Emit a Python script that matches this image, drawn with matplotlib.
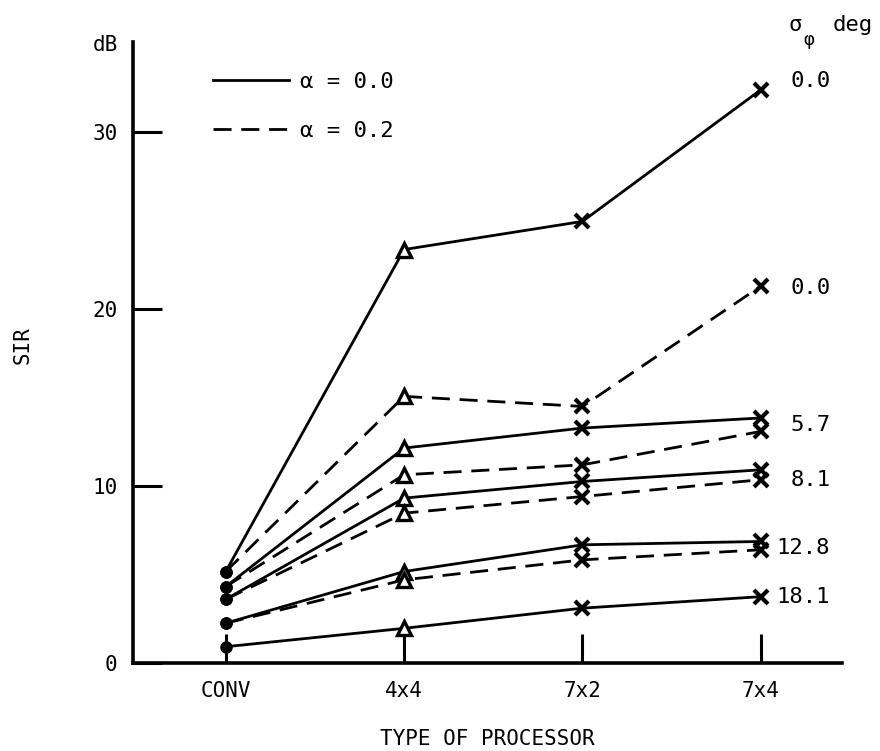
import numpy as np
import matplotlib
matplotlib.use('Agg')
import matplotlib.pyplot as plt

plt.rcParams['font.family'] = ['DejaVu Sans Mono', 'DejaVu Sans']

processors = ['CONV', '4x4', '7x2', '7x4']

# SIR in dB, alpha = 0.0 (solid), keyed by sigma_phi in deg
sir_a0 = {
    '0.0':  [5.17, 23.37, 24.96, 32.4],
    '5.7':  [4.32, 12.15, 13.28, 13.85],
    '8.1':  [3.60, 9.32, 10.26, 10.92],
    '12.8': [2.25, 5.17, 6.68, 6.87],
    '18.1': [0.92, 1.96, 3.10, 3.75],
}
# SIR in dB, alpha = 0.2 (dashed)
sir_a2 = {
    '0.0':  [5.17, 15.07, 14.50, 21.3],
    '5.7':  [4.32, 10.64, 11.20, 13.09],
    '8.1':  [3.60, 8.47, 9.41, 10.36],
    '12.8': [2.25, 4.70, 5.83, 6.40],
}
# sigma labels on the right
label_txt = ['0.0', '0.0', '5.7', '8.1', '12.8', '18.1']
label_y = [32.9, 21.2, 13.47, 10.36, 6.5, 3.74]

W, H = 880, 751
fig = plt.figure(figsize=(W / 100, H / 100), dpi=100)
ax = fig.add_axes([133 / W, 1 - 663 / H, (842 - 133) / W, (663 - 42) / H])

x = np.arange(len(processors))
DASH = (6.5, 3.5)

def draw(vals, dashed=False):
    kw = dict(color='black', lw=2.0)
    if dashed:
        kw['dashes'] = DASH
    ax.plot(x, vals, '-', **kw)
    ax.plot(x[:1], vals[:1], 'o', color='black', ms=8)
    ax.plot(x[1:2], vals[1:2], '^', mfc='white', mec='black', mew=2.4, ms=10)
    ax.plot(x[2:], vals[2:], 'x', color='black', mew=3.0, ms=10)

for v in sir_a0.values():
    draw(v)
for v in sir_a2.values():
    draw(v, dashed=True)

# legend
h1, = ax.plot([], [], '-', color='black', lw=2.0)
h2, = ax.plot([], [], '-', color='black', lw=2.0, dashes=DASH)
ax.legend([h1, h2], ['\u03b1 = 0.0', '\u03b1 = 0.2'], frameon=False,
          loc='upper left', bbox_to_anchor=(213 / W, 1 - 72 / H),
          bbox_transform=fig.transFigure, borderpad=0, borderaxespad=0,
          handlelength=3.4, handletextpad=0.5, fontsize=16,
          labelspacing=1.3)

for yy, t in zip(label_y, label_txt):
    ax.annotate(t, xy=(3, yy), xytext=(50, 0), textcoords='offset points',
                va='center', ha='right', fontsize=16)

fig.text(788 / W, 1 - 25 / H, '\u03c3', fontsize=16, ha='left', va='center')
fig.text(803 / W, 1 - 40 / H, '\u03c6', fontsize=13, ha='left', va='center')
fig.text(833 / W, 1 - 25 / H, 'deg', fontsize=16, ha='left', va='center')

ax.set_xlim(-0.52, 3.455)
ax.set_ylim(0, 35.1)
ax.set_xticks(x)
ax.set_xticklabels(processors)
ax.set_yticks([0, 10, 20, 30])
ax.tick_params(axis='both', direction='in', length=21, width=2.2,
               labelsize=15)
ax.tick_params(axis='x', pad=13)
ax.tick_params(axis='y', pad=11)
ax.spines['top'].set_visible(False)
ax.spines['right'].set_visible(False)
for s in ['left', 'bottom']:
    ax.spines[s].set_linewidth(2.6)

fig.text(487 / W, 1 - 739 / H, 'TYPE OF PROCESSOR', fontsize=15,
         ha='center', va='center')
fig.text(23 / W, 1 - 345 / H, 'SIR', fontsize=15, rotation=90,
         ha='center', va='center')
fig.text(105 / W, 1 - 45 / H, 'dB', fontsize=15, ha='center', va='center')

fig.savefig('out.png', dpi=100)
